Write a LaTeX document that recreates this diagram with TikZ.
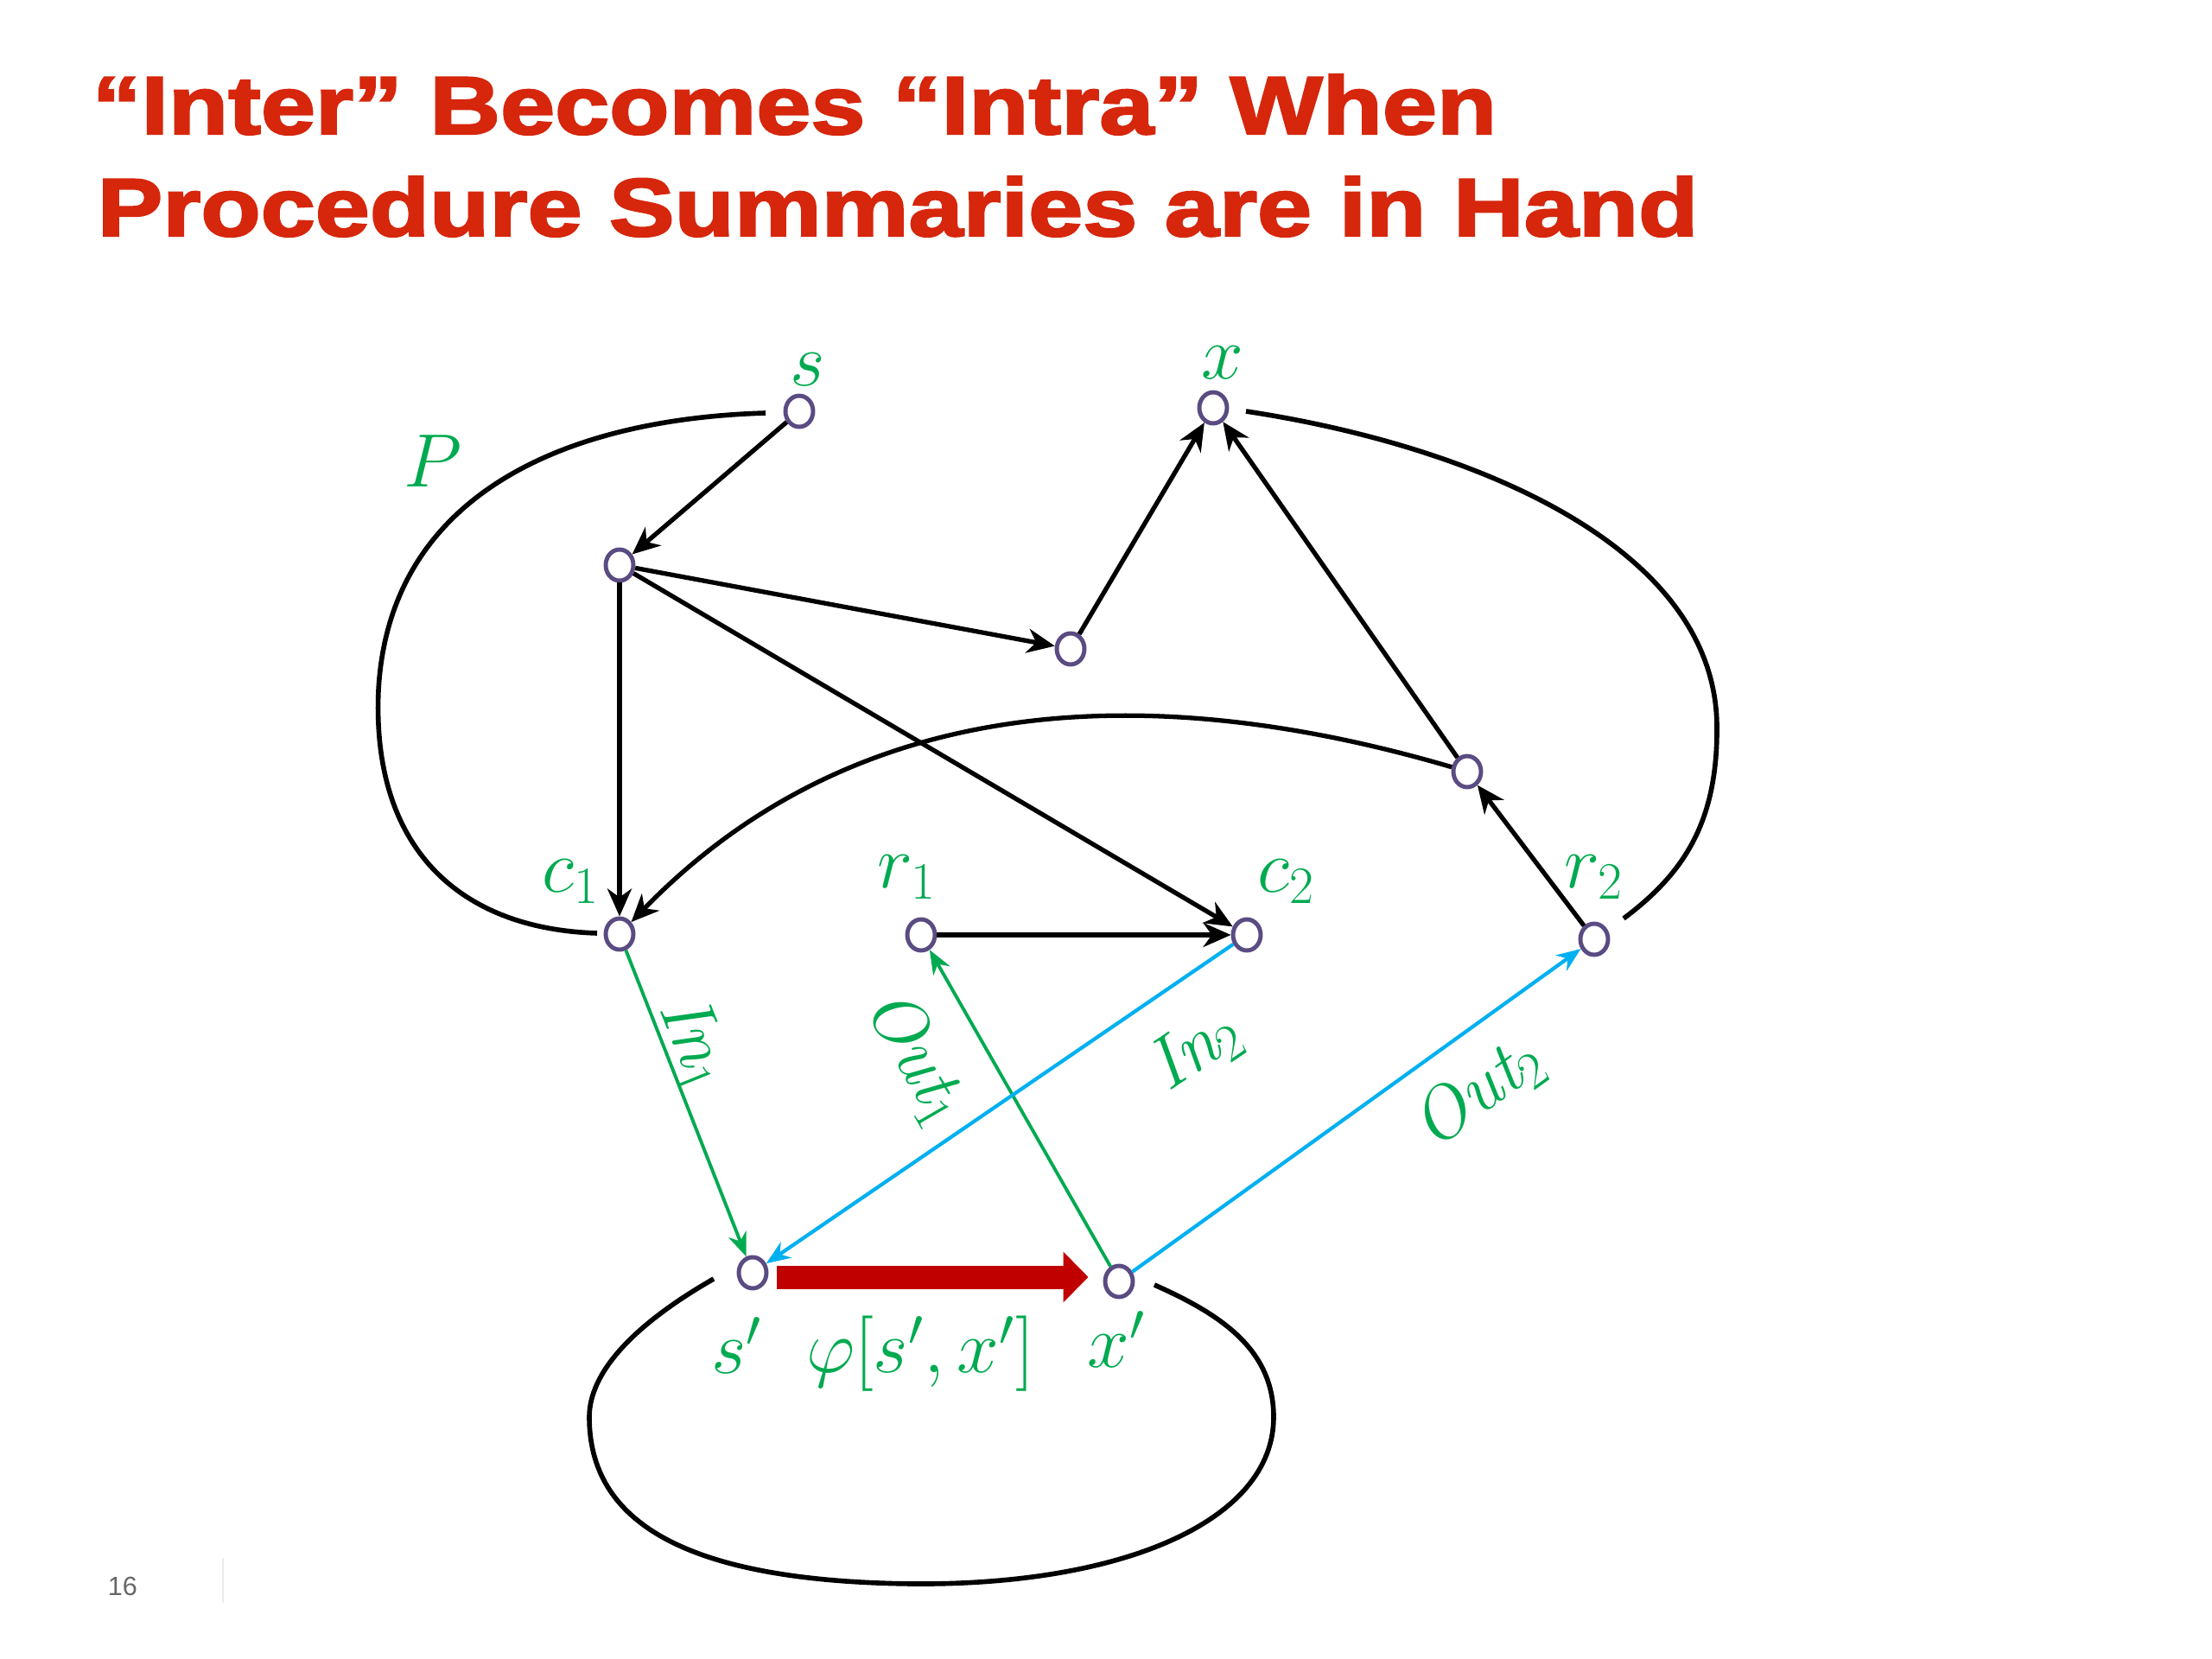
\documentclass[tikz,border=0pt]{standalone}
\usepackage{amsmath}
\usepackage{fontspec}
\newfontfamily\titlefont{Liberation Sans}[FakeStretch=1.195, FakeBold=2.6]
\newfontfamily\pagefont{Liberation Sans}
\usepackage{tikz}
\usetikzlibrary{arrows.meta, shapes.geometric, calc, positioning}

\definecolor{titlered}{RGB}{214,38,12}
\definecolor{lblgreen}{RGB}{0,170,80}
\definecolor{callblue}{RGB}{0,176,240}
\definecolor{sumred}{RGB}{192,0,0}
\definecolor{vtxpurple}{RGB}{90,75,130}

\begin{document}
\begin{tikzpicture}[
    vtx/.style={ellipse, draw=vtxpurple, fill=white, line width=1.4pt,
      minimum width=0.32cm, minimum height=0.36cm, inner sep=0pt},
    lbl/.style={text=lblgreen, font=\fontsize{24}{28}\selectfont, inner sep=1pt},
    flow/.style={black, line width=1.5pt,
      -{Stealth[length=0.32cm, width=0.28cm, inset=0.1cm]}},
    outline/.style={black, line width=1.6pt},
    call1/.style={lblgreen, line width=1.1pt,
      -{Stealth[length=0.28cm, width=0.22cm, inset=0.09cm]}},
    call2/.style={callblue, line width=1.2pt,
      -{Stealth[length=0.28cm, width=0.22cm, inset=0.09cm]}}
  ]
  \useasboundingbox (0,0) rectangle (25.6,-19.2);

  % Title
  \node[anchor=base west, inner sep=0, text=titlered,
    font=\titlefont\bfseries\fontsize{27}{32}\selectfont] (title1) at (1.06,-1.55)
    {“Inter” Becomes “Intra” When};
  \node[anchor=base west, inner sep=0, text=titlered,
    font=\titlefont\bfseries\fontsize{27}{32}\selectfont] (title2) at (1.12,-2.73)
    {Procedure Summaries are in Hand};

  % Caller P
  \node[vtx] (s)  at (9.25,-4.76) {};
  \node[vtx] (x)  at (14.04,-4.72) {};
  \node[vtx] (a)  at (7.17,-6.54) {};
  \node[vtx] (b)  at (12.39,-7.51) {};
  \node[vtx] (d)  at (16.98,-8.93) {};
  \node[vtx] (c1) at (7.17,-10.81) {};
  \node[vtx] (r1) at (10.66,-10.82) {};
  \node[vtx] (c2) at (14.43,-10.82) {};
  \node[vtx] (r2) at (18.45,-10.87) {};

  % Callee
  \node[vtx] (sp) at (8.71,-14.73) {};
  \node[vtx] (xp) at (12.95,-14.83) {};

  % Outlines of the two procedures
  \draw[outline] (8.86,-4.78) .. controls (6.5,-4.85) and (4.5,-5.75) .. (4.38,-7.99)
    .. controls (4.3,-9.8) and (5.3,-10.75) .. (6.91,-10.80);
  \draw[outline] (14.42,-4.76) .. controls (17.0,-5.15) and (19.85,-6.3) .. (19.87,-8.4)
    .. controls (19.88,-9.5) and (19.5,-10.1) .. (18.79,-10.63);
  \draw[outline] (8.26,-14.80) .. controls (7.3,-15.35) and (6.82,-15.9) .. (6.82,-16.4)
    .. controls (6.82,-17.6) and (7.9,-18.3) .. (10.56,-18.33)
    .. controls (13.0,-18.35) and (14.74,-17.6) .. (14.74,-16.4)
    .. controls (14.74,-15.6) and (14.1,-15.2) .. (13.36,-14.87);

  % Edges of P
  \draw[flow] (s) -- (a);
  \draw[flow] (a) -- (b);
  \draw[flow] (b) -- (x);
  \draw[flow] (a) -- (c1);
  \draw[flow] (a) -- (c2);
  \draw[flow] (r1) -- (c2);
  \draw[flow] (r2) -- (d);
  \draw[flow] (d) -- (x);
  \draw[flow] (d) .. controls (13.3,-7.85) and (9.9,-8.0) .. (c1);

  % Call and return edges
  \draw[call1] (c1) -- (sp);
  \draw[call1] (xp) -- (r1);
  \draw[call2] (c2) -- (sp);
  \draw[call2] (xp) -- (r2);

  % Summary edge
  \draw[sumred, line width=0.27cm, -{Triangle[length=0.29cm, width=0.57cm]}]
    ($(sp.east)+(0.1,-0.05)$) -- ($(sp.east -| xp.west)+(-0.17,-0.05)$);

  % Labels
  \node[lbl] (ls)  at (9.35,-4.28) {$s$};
  \node[lbl] (lx)  at (14.15,-4.20) {$x$};
  \node[lbl] (lP)  at (5.01,-5.34) {$P$};
  \node[lbl] (lc1) at (6.61,-10.20) {$c_1$};
  \node[lbl] (lr1) at (10.50,-10.15) {$r_1$};
  \node[lbl] (lc2) at (14.89,-10.20) {$c_2$};
  \node[lbl] (lr2) at (18.45,-10.15) {$r_2$};
  \node[lbl] (lsp) at (8.53,-15.57) {$s'$};
  \node[lbl] (lphi) at (10.65,-15.67) {$\varphi[s',x']$};
  \node[lbl] (lxp) at (12.92,-15.50) {$x'$};
  \node[lbl, rotate=-68] (lin1)  at (8.03,-12.08) {$\mathit{In}_1$};
  \node[lbl, rotate=-60] (lout1) at (10.61,-12.24) {$\mathit{Out}_1$};
  \node[lbl, rotate=34]  (lin2)  at (13.84,-12.16) {$\mathit{In}_2$};
  \node[lbl, rotate=36]  (lout2) at (17.11,-12.65) {$\mathit{Out}_2$};

  % Slide number
  \node[text=black!60, font=\pagefont\fontsize{8.7}{10}\selectfont] (pg) at (1.42,-18.36) {16};
  \draw[black!8, line width=0.6pt] (2.58,-18.03) -- (2.58,-18.55);
\end{tikzpicture}
\end{document}
